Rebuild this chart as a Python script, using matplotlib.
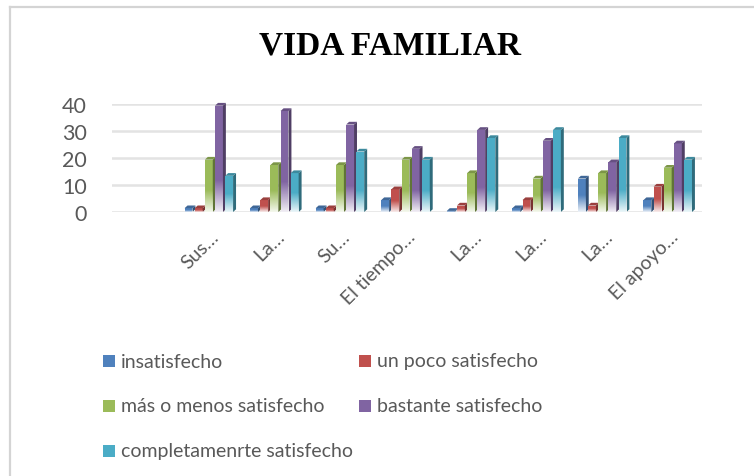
import matplotlib
matplotlib.use("Agg")
import matplotlib.pyplot as plt
import matplotlib.colors as mcolors
import matplotlib.transforms as mtransforms
from matplotlib.patches import Polygon, Rectangle
from matplotlib.lines import Line2D
import numpy as np

# data (first category is empty in the source sheet)
categories = ["", "Sus…", "La…", "Su…", "El tiempo…", "La…", "La…", "La…", "El apoyo…"]
series = ["insatisfecho", "un poco satisfecho", "más o menos satisfecho",
          "bastante satisfecho", "completamenrte satisfecho"]
insatisfecho = [0, 2, 2, 2, 5, 1, 2, 13, 5]
un_poco = [0, 2, 5, 2, 9, 3, 5, 3, 10]
mas_o_menos = [0, 20, 18, 18, 20, 15, 13, 15, 17]
bastante = [0, 40, 38, 33, 24, 31, 27, 19, 26]
completamente = [0, 14, 15, 23, 20, 28, 31, 28, 20]
values = [insatisfecho, un_poco, mas_o_menos, bastante, completamente]
colors = ["#4F81BD", "#C0504D", "#9BBB59", "#8064A2", "#4BACC6"]
yticks = [0, 10, 20, 30, 40]

text_color = "#595959"
tick_font = "Lato"

fig = plt.figure(figsize=(7.54, 4.77), dpi=100)
ax = fig.add_axes([0.1485, 0.5535, 0.7825, 0.2264])

slot = 0.155
front = 0.12
dx = 0.045
dy = 1.0

# white fade towards the base of each bar
grad = np.zeros((100, 1, 4))
grad[..., :3] = 1.0
fade = np.linspace(0, 1, 100)  # row 0 = bottom (origin lower)
grad[:, 0, 3] = np.clip(0.9 * (1 - fade * 2.0), 0, 0.9)

x = np.arange(len(categories))
for k, (vals, col) in enumerate(zip(values, colors)):
    dark = np.array(mcolors.to_rgb(col)) * 0.62
    mid = np.array(mcolors.to_rgb(col)) * 0.8
    for i, v in enumerate(vals):
        if v <= 0:
            continue
        x0 = x[i] + (k - 2) * slot - front / 2 - dx / 2
        x1 = x0 + front
        # bars sit a bit in front of the back wall, so their tops land slightly under the grid
        h = v - dy * 0.6
        bars = ax.bar(x0, h, width=front, align="edge", color=col, linewidth=0, zorder=3)
        side = Polygon([(x1, 0), (x1 + dx, dy), (x1 + dx, h + dy), (x1, h)],
                       closed=True, facecolor=dark, edgecolor="none", zorder=3, clip_on=False)
        top = Polygon([(x0, h), (x0 + dx, h + dy), (x1 + dx, h + dy), (x1, h)],
                      closed=True, facecolor=mid, edgecolor="none", zorder=3, clip_on=False)
        ax.add_patch(side)
        ax.add_patch(top)
        im = ax.imshow(grad, extent=(x0, x1 + dx, 0, max(min(h, 16), h * 0.6)), origin="lower",
                       aspect="auto", zorder=4, interpolation="bilinear")
        im.set_clip_path(bars[0])

ax.set_xlim(-0.5, len(categories) - 0.5)
ax.set_ylim(0, 40)
ax.set_yticks(yticks)
ax.set_xticks(x)
ax.set_xticklabels(categories, rotation=45, ha="right", va="top", rotation_mode="anchor",
                   fontsize=14, color=text_color, family=tick_font)
shift = mtransforms.ScaledTranslation(14 / 100, 0, fig.dpi_scale_trans)
for lab in ax.get_xticklabels():
    lab.set_transform(lab.get_transform() + shift)
for lab in ax.get_yticklabels():
    lab.set_fontsize(15.5)
    lab.set_color(text_color)
    lab.set_family(tick_font)
ax.tick_params(axis="both", length=0)
ax.tick_params(axis="y", pad=18)
ax.tick_params(axis="x", pad=11)
ax.grid(axis="y", color="#E3E3E3", linewidth=1.8, zorder=0)
ax.set_axisbelow(True)
for s in ax.spines.values():
    s.set_visible(False)

fig.text(0.517, 0.903, "VIDA FAMILIAR", ha="center", va="center",
         fontsize=24, fontweight="bold", family="Liberation Serif", color="black")

# legend laid out row by row like the original
col_x = [103 / 754, 359 / 754]
row_y = [1 - 362 / 477, 1 - 407 / 477, 1 - 452 / 477]
for n, (name, col) in enumerate(zip(series, colors)):
    cx = col_x[n % 2]
    cy = row_y[n // 2]
    fig.patches.append(Rectangle((cx, cy - 6 / 477), 12 / 754, 12 / 477,
                                 transform=fig.transFigure, facecolor=col, edgecolor="none"))
    fig.text(cx + 18 / 754, cy, name, ha="left", va="center", fontsize=14,
             color=text_color, family=tick_font)

# page frame
fig.add_artist(Line2D([10 / 754, 10 / 754], [0, 1 - 8 / 477], transform=fig.transFigure,
                      color="#D4D4D4", linewidth=1.6))
fig.add_artist(Line2D([10 / 754, 1], [1 - 8 / 477, 1 - 8 / 477], transform=fig.transFigure,
                      color="#D4D4D4", linewidth=1.6))

fig.savefig("out.png", dpi=100)
